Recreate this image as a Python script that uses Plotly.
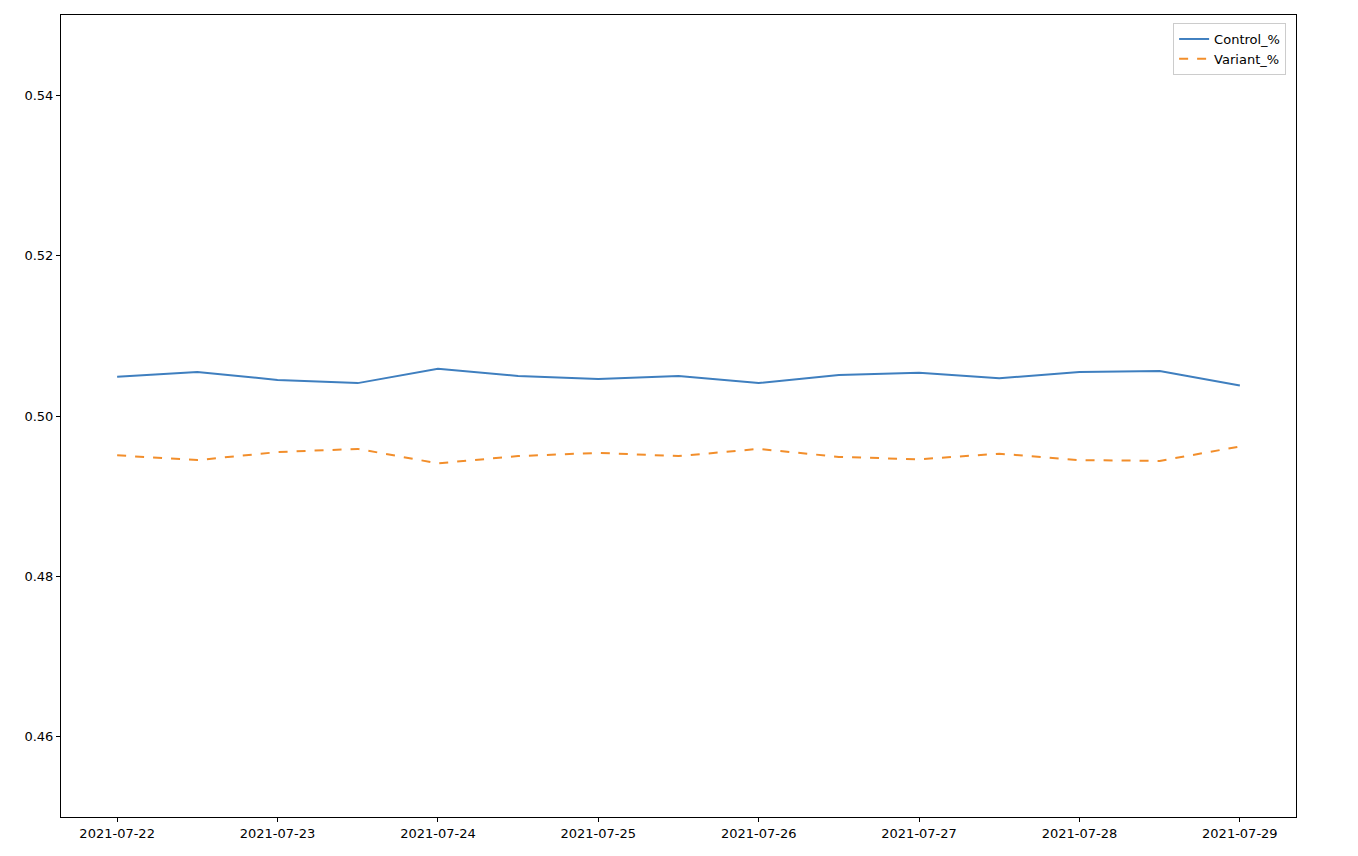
import plotly.graph_objects as go
import pandas as pd

dates = pd.date_range("2021-07-22", "2021-07-29", freq="12h")
control = [0.5049, 0.5055, 0.5045, 0.5041, 0.5059, 0.5050, 0.5046, 0.5050,
           0.5041, 0.5051, 0.5054, 0.5047, 0.5055, 0.5056, 0.5038]
variant = [0.4951, 0.4945, 0.4955, 0.4959, 0.4941, 0.4950, 0.4954, 0.4950,
           0.4959, 0.4949, 0.4946, 0.4953, 0.4945, 0.4944, 0.4962]
tick_dates = pd.date_range("2021-07-22", "2021-07-29", freq="D")
tick_labels = [d.strftime("%Y-%m-%d") for d in tick_dates]
y_ticks = [0.46, 0.48, 0.50, 0.52, 0.54]

fig = go.Figure()
fig.add_trace(go.Scatter(x=dates, y=control, mode="lines", name="Control_%",
                         line=dict(color="#3f7fbf", width=2)))
fig.add_trace(go.Scatter(x=dates, y=variant, mode="lines", name="Variant_%",
                         line=dict(color="#f28e2b", width=2, dash="dash")))
axis = dict(showgrid=False, zeroline=False, showline=True, linecolor="black",
            linewidth=1, mirror=True, ticks="outside", ticklen=4, tickcolor="black")
fig.update_layout(
    width=1358, height=856, paper_bgcolor="white", plot_bgcolor="white",
    margin=dict(l=53, r=70, t=7, b=47),
    font=dict(family="DejaVu Sans", size=13, color="black"),
    xaxis=dict(axis, range=[pd.Timestamp("2021-07-21 15:36"), pd.Timestamp("2021-07-29 08:24")],
               tickvals=tick_dates, ticktext=tick_labels),
    yaxis=dict(axis, range=[0.45, 0.55], tickvals=y_ticks,
               ticktext=[f"{v:.2f}" for v in y_ticks]),
    legend=dict(x=0.992, y=0.99, xanchor="right", yanchor="top",
                bordercolor="#cccccc", borderwidth=1, bgcolor="white"),
)
fig.write_html("out.html")
